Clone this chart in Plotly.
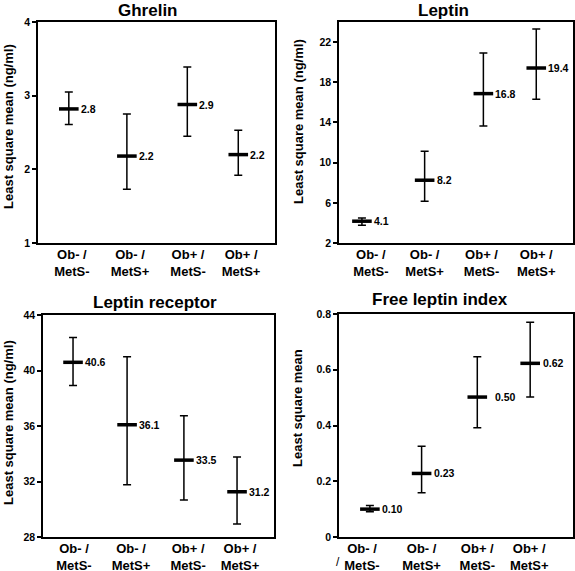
import plotly.graph_objects as go

groups = ["Ob- /<br>MetS-", "Ob- /<br>MetS+", "Ob+ /<br>MetS-", "Ob+ /<br>MetS+"]

ghrelin_mean = [2.82, 2.18, 2.88, 2.20]
ghrelin_upper = [3.05, 2.75, 3.39, 2.53]
ghrelin_lower = [2.61, 1.73, 2.45, 1.92]
ghrelin_labels = ["2.8", "2.2", "2.9", "2.2"]

leptin_mean = [4.17, 8.25, 16.87, 19.42]
leptin_upper = [4.5, 11.13, 20.92, 23.3]
leptin_lower = [3.77, 6.16, 13.65, 16.3]
leptin_labels = ["4.1", "8.2", "16.8", "19.4"]

lepr_mean = [40.59, 36.09, 33.54, 31.26]
lepr_upper = [42.37, 41.0, 36.73, 33.76]
lepr_lower = [38.92, 31.77, 30.67, 28.94]
lepr_labels = ["40.6", "36.1", "33.5", "31.2"]

fli_mean = [0.10, 0.228, 0.502, 0.623]
fli_upper = [0.113, 0.326, 0.647, 0.77]
fli_lower = [0.091, 0.159, 0.392, 0.502]
fli_labels = ["0.10", "0.23", "0.50", "0.62"]

FONT = "Liberation Sans"

panels = [
    dict(title="Ghrelin", ytitle="Least square mean (ng/ml)",
         mean=ghrelin_mean, up=ghrelin_upper, lo=ghrelin_lower, labels=ghrelin_labels,
         yrange=[1, 4], ytick=[1, 2, 3, 4], ytext=["1", "2", "3", "4"],
         xdom=[38/575, 275/575], ydom=[1-243/571, 1-22/571],
         px=[0.13, 0.375, 0.63, 0.845], tx=[0.143, 0.388, 0.633, 0.857],
         lshift=[10, 10, 10, 10],
         tpos=(148, 10), ypos=(8, 127)),
    dict(title="Leptin", ytitle="Least square mean (ng/ml)",
         mean=leptin_mean, up=leptin_upper, lo=leptin_lower, labels=leptin_labels,
         yrange=[2, 24], ytick=[2, 6, 10, 14, 18, 22], ytext=["2", "6", "10", "14", "18", "22"],
         xdom=[339/575, 573/575], ydom=[1-243/571, 1-22/571],
         px=[0.098, 0.366, 0.617, 0.843], tx=[0.136, 0.366, 0.609, 0.843],
         lshift=[10, 10, 10, 10],
         tpos=(443, 10), ypos=(298, 122)),
    dict(title="Leptin receptor", ytitle="Least square mean (ng/ml)",
         mean=lepr_mean, up=lepr_upper, lo=lepr_lower, labels=lepr_labels,
         yrange=[28, 44], ytick=[28, 32, 36, 40, 44], ytext=["28", "32", "36", "40", "44"],
         xdom=[43/575, 274/575], ydom=[1-537/571, 1-315/571],
         px=[0.13, 0.364, 0.61, 0.84], tx=[0.134, 0.381, 0.628, 0.853],
         lshift=[10, 10, 10, 10],
         tpos=(155, 302), ypos=(8, 423)),
    dict(title="Free leptin index", ytitle="Least square mean",
         mean=fli_mean, up=fli_upper, lo=fli_lower, labels=fli_labels,
         yrange=[0, 0.8], ytick=[0, 0.2, 0.4, 0.6, 0.8], ytext=["0", "0.2", "0.4", "0.6", "0.8"],
         xdom=[339/575, 573/575], ydom=[1-537/571, 1-314/571],
         px=[0.132, 0.353, 0.591, 0.817], tx=[0.098, 0.353, 0.591, 0.813],
         lshift=[10, 10, 16, 11],
         tpos=(440, 299), ypos=(298, 408)),
]

fig = go.Figure()
annotations = []
layout = {}
for i, p in enumerate(panels):
    n = "" if i == 0 else str(i + 1)
    xa, ya = "x" + n, "y" + n
    plus = [u - m for u, m in zip(p["up"], p["mean"])]
    minus = [m - l for m, l in zip(p["mean"], p["lo"])]
    fig.add_trace(go.Scatter(
        x=p["px"], y=p["mean"], xaxis=xa, yaxis=ya, mode="markers",
        marker=dict(symbol="line-ew", size=14, line=dict(width=3.5, color="black"), color="black"),
        error_y=dict(type="data", symmetric=False, array=plus, arrayminus=minus,
                     color="black", thickness=1.5, width=4),
        showlegend=False, hoverinfo="skip"))
    layout["xaxis" + n] = dict(
        domain=p["xdom"], anchor=ya, range=[0, 1], showgrid=False, zeroline=False,
        showline=True, linecolor="black", linewidth=1.5, mirror=True,
        tickvals=p["tx"], ticktext=groups, ticks="", ticklabelstandoff=-1,
        tickfont=dict(family=FONT, size=13, color="black", weight="bold"))
    layout["yaxis" + n] = dict(
        domain=p["ydom"], anchor=xa, range=p["yrange"], showgrid=False, zeroline=False,
        showline=True, linecolor="black", linewidth=1.5, mirror=True,
        tickvals=p["ytick"], ticktext=p["ytext"], ticks="outside", ticklen=4,
        tickcolor="black", tickwidth=1.5,
        tickfont=dict(family=FONT, size=10.5, color="black", weight="bold"))
    for xv, yv, lab, sh in zip(p["px"], p["mean"], p["labels"], p["lshift"]):
        annotations.append(dict(x=xv, y=yv, xref=xa, yref=ya, text=lab, showarrow=False,
                                xanchor="left", yanchor="middle", xshift=sh,
                                font=dict(family=FONT, size=10.5, color="black", weight="bold")))
    annotations.append(dict(x=p["tpos"][0]/575, y=1-p["tpos"][1]/571, xref="paper", yref="paper",
                            text=p["title"], showarrow=False, xanchor="center", yanchor="middle",
                            font=dict(family=FONT, size=17, color="black", weight="bold")))
    annotations.append(dict(x=p["ypos"][0]/575, y=1-p["ypos"][1]/571, xref="paper", yref="paper",
                            text=p["ytitle"], showarrow=False, textangle=-90,
                            xanchor="center", yanchor="middle",
                            font=dict(family=FONT, size=13, color="black", weight="bold")))

annotations.append(dict(x=338/575, y=1-562/571, xref="paper", yref="paper", text="/",
                        showarrow=False, xanchor="center", yanchor="middle",
                        font=dict(family=FONT, size=12, color="black")))

fig.update_layout(width=575, height=571,
                  margin=dict(l=0, r=0, t=0, b=0, pad=0, autoexpand=False),
                  paper_bgcolor="white", plot_bgcolor="white",
                  annotations=annotations, **layout)
fig.write_html("out.html", config={"displayModeBar": False},
               post_script="document.body.style.margin='0';document.body.style.padding='0';"
                           "document.body.style.overflow='hidden';")
